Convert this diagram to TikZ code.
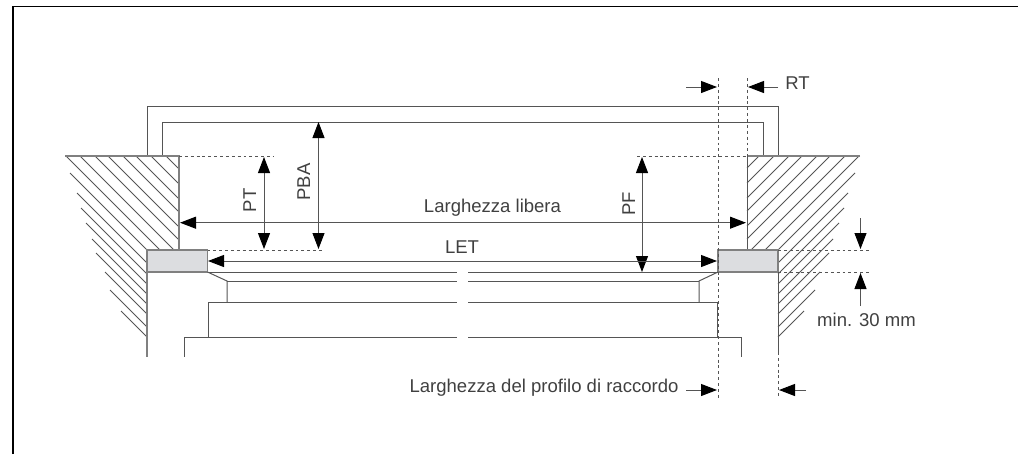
\documentclass[tikz,border=0pt]{standalone}
\usepackage{fontspec}
\setmainfont{Liberation Sans}
\usetikzlibrary{arrows.meta}
\definecolor{inkgray}{HTML}{555555}
\definecolor{wallgray}{HTML}{808080}
\definecolor{boxgray}{HTML}{DCDDE0}
\definecolor{textgray}{HTML}{404040}
\tikzstyle{frameline} = [black,line width=1pt]
\tikzstyle{outline}   = [inkgray,line width=0.75pt]
\tikzstyle{wall}      = [wallgray,line width=1pt]
\tikzstyle{hatch}     = [inkgray,line width=0.6pt]
\tikzstyle{seal}      = [wallgray,line width=1pt,fill=boxgray]
\tikzstyle{hidden}    = [inkgray,line width=0.7pt,dash pattern=on 2.2pt off 2.2pt]
\tikzstyle{dim}       = [inkgray,line width=0.75pt,>={Triangle[length=12pt,width=9pt,black]}]
\tikzstyle{lbl}       = [textgray,font=\fontsize{13.9}{17}\selectfont,inner sep=0pt,anchor=base]
\begin{document}
\begin{tikzpicture}[x=0.75pt,y=-0.75pt]
    \useasboundingbox (0,0) rectangle (1018,454);

    % page frame
    \draw[frameline] (13,454) -- (13,6.3) -- (1018,6.3);

    % wall hatching, right side and its mirror
    \foreach \xa/\ya/\xb/\yb in {759/156/747/168,774/156/747/183,789/156/747/198,802/156/747/211,
        817/156/747/226,830/156/747/239,845/156/751/250,859/156/765/250,855/173/778/250,
        848/193/778/263,844/208/778/274,839/223/778/284,833/239/778/294,829/253/778/304,
        820/272/778/314,815/290/778/327,804/311/778/337} {
        \draw[hatch] (\xa,\ya) -- (\xb,\yb);
        \draw[hatch] ({925-\xa},\ya) -- ({925-\xb},\yb);
    }

    % frame profile
    \draw[outline] (147,156) -- (147,106) -- (778,106) -- (778,156);
    \draw[outline] (162,156) -- (162,122) -- (763,122) -- (763,156);

    % walls
    \draw[wall] (65,156) -- (179,156) -- (179,250);
    \draw[wall] (860,156) -- (747,156);
    \draw[outline] (747,156) -- (747,250);
    \draw[wall] (147,272) -- (147,357);
    \draw[outline] (778,272) -- (778,352);

    % seals
    \draw[seal] (147,250) rectangle (207.5,272);
    \draw[seal] (718,250) rectangle (778,272);

    % section lines with the break
    \foreach \ya/\xa/\xb in {272/207.5/718,281/227/699,302/208/717,337/184/741} {
        \draw[outline] (\xa,\ya) -- (457,\ya);
        \draw[outline] (468,\ya) -- (\xb,\ya);
    }
    \draw[outline] (207.5,272) -- (227,281) -- (227,302);
    \draw[outline] (718,272) -- (699,281) -- (699,302);
    \draw[outline] (208,302) -- (208,337);
    \draw[outline] (717,302) -- (717,337);
    \draw[outline] (184,337) -- (184,357);
    \draw[outline] (741,337) -- (741,357);

    % dashed extension lines
    \draw[hidden] (718,78) -- (718,398);
    \draw[hidden] (747,78) -- (747,156);
    \draw[hidden] (778,352) -- (778,398);
    \draw[hidden] (179,156) -- (273,156);
    \draw[hidden] (207.5,250) -- (322,250);
    \draw[hidden] (637,156) -- (747,156);
    \draw[hidden] (778,250) -- (870,250);
    \draw[hidden] (778,272) -- (870,272);

    % dimensions
    \draw[dim,<->] (264,157) -- (264,249);
    \draw[dim,<->] (318.5,122) -- (318.5,249);
    \draw[dim,<->] (642,157) -- (642,272);
    \draw[dim,<->] (180,222.7) -- (746,222.7);
    \draw[dim,<->] (208,261) -- (717,261);
    \draw[dim,->] (860.5,218) -- (860.5,249);
    \draw[dim,->] (860.5,306) -- (860.5,273);
    \draw[dim,->] (686,87) -- (717,87);
    \draw[dim,->] (778,87) -- (748,87);
    \draw[dim,->] (686,390) -- (717,390);
    \draw[dim,->] (806,390) -- (779,390);

    % labels
    \node[lbl,rotate=90] (labelPT) at (256,200.5) {PT};
    \node[lbl,rotate=90] (labelPBA) at (310,182) {PBA};
    \node[lbl,rotate=90] (labelPF) at (635,204) {PF};
    \node[lbl] (labelFree) at (492.5,212.7) {Larghezza libera};
    \node[lbl] (labelLET) at (462,253) {LET};
    \node[lbl] (labelRT) at (797.5,89) {RT};
    \node[lbl] (labelMin) at (866.5,326.7) {min. 30 mm};
    \node[lbl] (labelProfile) at (544,392.7) {Larghezza del profilo di raccordo};
\end{tikzpicture}
\end{document}
